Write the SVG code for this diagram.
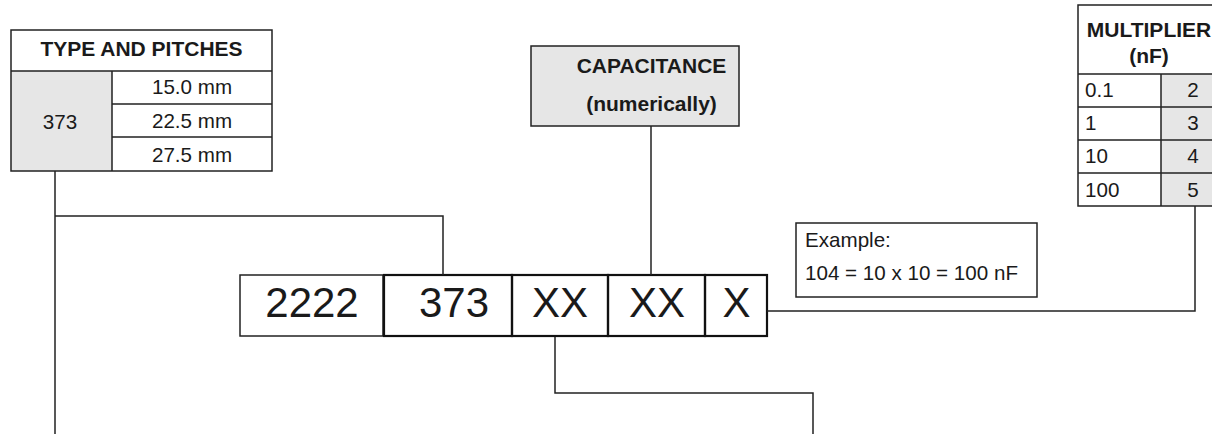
<svg xmlns="http://www.w3.org/2000/svg" width="1212" height="434" viewBox="0 0 1212 434">
<style>
text{font-family:"Liberation Sans",Arial,sans-serif;fill:#1a1a1a}
.h{font-weight:bold;font-size:21px;text-anchor:middle}
.t{font-size:20.6px}
.c{text-anchor:middle}
.big{font-size:42px;text-anchor:middle}
.ln{fill:none;stroke:#222;stroke-width:1.5}
.bx{fill:none;stroke:#111;stroke-width:2.2}
.g{fill:#e6e6e6}
</style>
<rect width="1212" height="434" fill="#fff"/>
<g id="type-table">
<rect class="g" x="11" y="71" width="101" height="100"/>
<rect class="ln" x="11" y="30" width="261" height="141"/>
<path class="ln" d="M11,71H272M112,71V171M112,104H272M112,137H272"/>
<text class="h" x="141.5" y="56">TYPE AND PITCHES</text>
<text class="t c" x="60" y="129">373</text>
<text class="t c" x="192" y="94">15.0 mm</text>
<text class="t c" x="192" y="128">22.5 mm</text>
<text class="t c" x="192" y="162">27.5 mm</text>
</g>
<g id="capacitance">
<rect class="g" x="531" y="46" width="208" height="80"/>
<rect class="ln" x="531" y="46" width="208" height="80"/>
<text class="h" x="651.5" y="73">CAPACITANCE</text>
<text class="h" x="651.5" y="111">(numerically)</text>
</g>
<g id="multiplier-table">
<rect class="g" x="1161" y="74" width="60" height="132"/>
<rect class="ln" x="1078" y="5" width="143" height="201"/>
<path class="ln" d="M1078,74H1221M1161,74V206M1078,107H1221M1078,140H1221M1078,173H1221"/>
<text class="h" x="1149" y="37">MULTIPLIER</text>
<text class="h" x="1149" y="63">(nF)</text>
<text class="t" x="1085" y="97">0.1</text>
<text class="t" x="1085" y="130">1</text>
<text class="t" x="1085" y="163">10</text>
<text class="t" x="1085" y="197">100</text>
<text class="t c" x="1193" y="97">2</text>
<text class="t c" x="1193" y="130">3</text>
<text class="t c" x="1193" y="163">4</text>
<text class="t c" x="1193" y="197">5</text>
</g>
<g id="example">
<rect class="ln" x="796" y="223" width="241" height="74"/>
<text class="t" x="805" y="247">Example:</text>
<text class="t" x="805" y="280">104 = 10 x 10 = 100 nF</text>
</g>
<g id="code">
<g id="code-2222">
<rect class="ln" x="240" y="275" width="143" height="61"/>
<text class="big" x="312" y="317">2222</text>
</g>
<g id="code-373">
<rect class="bx" x="384" y="275" width="128" height="61"/>
<text class="big" x="454" y="317">373</text>
</g>
<g id="code-xx1">
<rect class="bx" x="512" y="275" width="96" height="61"/>
<text class="big" x="560" y="317">XX</text>
</g>
<g id="code-xx2">
<rect class="bx" x="608" y="275" width="97" height="61"/>
<text class="big" x="657" y="317">XX</text>
</g>
<g id="code-x">
<rect class="bx" x="705" y="275" width="62" height="61"/>
<text class="big" x="736.5" y="317">X</text>
</g>
</g>
<g id="connectors">
<path class="ln" d="M55,171V434M55,216H443V275"/>
<path class="ln" d="M651,126V275"/>
<path class="ln" d="M1195,206V311H767"/>
<path class="ln" d="M555,337V393H813V434"/>
</g>
</svg>
